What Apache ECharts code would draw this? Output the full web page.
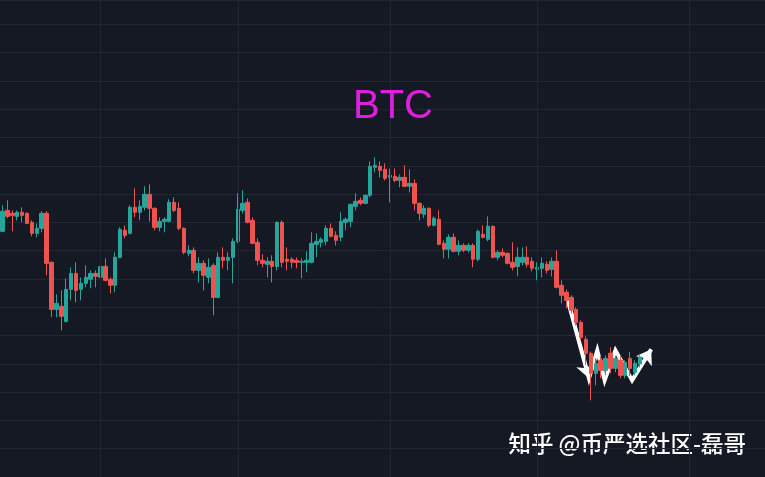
<!DOCTYPE html>
<html><head><meta charset="utf-8">
<script src="https://cdn.jsdelivr.net/npm/echarts@6/dist/echarts.min.js"></script>
<style>html,body{margin:0;padding:0;background:#151924}#c{width:765px;height:477px}</style>
</head><body><div id="c"></div><script>
const startDate = '2022-01-12';
const slotCount = 156;
const opens = [41710,43560,43300,43030,43390,43300,42500,41530,41970,43300,38970,34810,35080,33750,36580,37990,36580,37110,37470,37990,37640,38610,37470,36940,39410,41800,41530,43830,43390,43830,44980,43740,42060,42590,42590,44270,43740,41970,39760,40030,38260,38880,37640,38700,35870,39410,39150,39410,40820,43560,44270,42680,40740,39150,38790,39060,38610,42500,39240,39240,39150,38970,38970,38970,40560,40740,40820,41970,41350,41180,42500,42590,43920,44450,44180,44890,47360,47450,47190,46480,46570,46210,46480,45690,45950,44180,43210,43740,42240,42770,40650,40120,41180,39940,40470,40030,40470,39240,41440,41000,42150,39410,39850,39760,38970,38610,38970,39410,39060,38350,38440,38790,38350,39060,36940,36320,35870,34810,33660,32160,30930,29160,30310,29420,30930,29600,30310,28980,30480,29250,29990];
const closes = [43480,43030,43120,43390,43120,42410,41530,41970,43300,38880,34810,35340,34200,36580,37990,36490,37110,37640,37990,37730,38610,37380,36940,39410,41880,41350,43830,43390,43920,44980,43740,42060,42590,42770,44270,43560,41970,39850,40030,38260,38880,37820,38530,35870,39410,39150,39410,40820,43650,44180,42500,40650,39150,38880,39060,38610,42500,38970,39060,38970,38970,39060,39150,40650,40820,41000,41970,41270,40910,42590,42770,44090,44360,44180,44890,47450,47540,47100,46390,46660,46210,46480,45690,45950,44180,43300,43740,42240,42860,40560,40120,41180,39940,40470,40030,40470,39240,41710,41180,42150,39410,39850,39590,38880,38530,39410,39410,38790,38440,38530,38880,38260,39060,36760,36050,35610,34730,33660,32340,30930,29160,30040,29420,30480,29600,30480,28980,30130,29600,30040,30610];
const lows = [41620,42860,41710,42680,42500,42330,41270,41180,41620,37820,34140,34110,32960,33660,35610,35430,35610,36760,36670,36760,37550,37290,36230,36320,39320,41090,41440,42950,42680,43560,42590,41800,41710,41620,42500,43390,41800,39680,39500,37990,37200,36490,37110,34290,35790,38440,38260,37110,40650,43300,42410,40560,38700,38530,37640,37200,38260,38530,38260,38440,38440,37550,38080,38880,39410,40290,40470,41180,40470,40820,41800,42060,43560,44010,44100,44710,46920,46480,46210,44270,46040,45600,45600,45150,43560,42680,42860,42060,42150,40470,39320,39320,39850,39590,39850,39850,38530,39060,41090,40820,39320,39150,39410,38790,38260,37730,38700,38530,38170,37380,37640,37990,37730,36670,35340,34900,34460,33400,32080,29900,26770,28100,28720,28980,29160,29250,28720,28720,28930,28980,29690];
const highs = [44010,44450,43560,43560,43830,43390,42680,42410,43480,43480,39060,36140,36490,37550,38530,38970,37640,38700,38260,38260,39150,39320,37640,39850,42060,42240,44010,45510,44450,45690,45860,43830,42950,42950,44540,44710,44270,42060,40470,40290,39410,39150,39320,38880,39850,40290,39850,41090,45070,45330,44620,42950,41090,39680,39410,39590,42590,42680,40290,39410,39410,39320,39940,41620,41530,41180,42240,42410,41710,43390,42950,44180,45070,44710,44980,47890,48250,47890,47720,47270,47270,46740,47540,47190,46300,44270,44010,43830,43030,43560,40910,41440,41530,40910,40650,40650,40650,41880,42240,43030,42240,40030,40210,39850,40740,40290,40290,40380,39410,38970,39410,39060,39410,40030,37380,36580,36050,34990,33840,32430,31100,30480,30660,30750,31460,30660,30690,30310,31050,30310,30880];
const monthStarts = ['2022-02-01','2022-03-01','2022-04-01','2022-05-01','2022-06-01'];
const arrowPath = [[114.9,36250],[119.6,28720],[121.3,31190],[122.8,28540],[125.0,31190],[128.4,28540],[132.3,31280]];
const arrowHeadSegments = [0, 5];
const titleText = 'BTC';
const watermark = '知乎 @币严选社区-磊哥';

const dates = [];
const d0 = new Date(startDate + 'T00:00:00Z');
for (let i = 0; i < slotCount; i++) {
  dates.push(new Date(d0.getTime() + i * 86400000).toISOString().slice(0, 10));
}
const ohlc = opens.map((o, i) => [o, closes[i], lows[i], highs[i]]);
const headSegs = arrowHeadSegments.map(i => ({coords: [arrowPath[i], arrowPath[i + 1]]}));
const gridColor = '#222634';

const chart = echarts.init(document.getElementById('c'), null, {renderer: 'canvas'});
chart.setOption({
  backgroundColor: '#151924',
  animation: false,
  title: {
    text: titleText, left: 348, top: 82,
    textStyle: {color: '#e01ee0', fontSize: 40, fontWeight: 'normal', fontFamily: 'Liberation Sans, Arial, sans-serif'}
  },
  grid: {left: 0, top: 0, width: 768.3, height: 477},
  xAxis: [
    {type: 'category', data: dates, boundaryGap: true,
     axisLine: {show: false}, axisTick: {show: false}, axisLabel: {show: false}, splitLine: {show: false}},
    {type: 'value', min: -0.5, max: slotCount - 0.5, show: false}
  ],
  yAxis: {
    type: 'value', min: 20000, max: 62150, interval: 2500,
    axisLine: {show: false}, axisTick: {show: false}, axisLabel: {show: false},
    splitLine: {lineStyle: {color: gridColor, width: 1}}
  },
  series: [
    {
      type: 'candlestick', data: ohlc, barWidth: 4,
      itemStyle: {color: '#26a69a', color0: '#ef5350', borderColor: '#26a69a', borderColor0: '#ef5350', borderWidth: 1},
      markLine: {
        silent: true, symbol: 'none', animation: false,
        label: {show: false},
        lineStyle: {color: gridColor, type: 'solid', width: 1},
        data: monthStarts.map(d => ({xAxis: d}))
      }
    },
    {
      type: 'lines', coordinateSystem: 'cartesian2d', xAxisIndex: 1, yAxisIndex: 0,
      polyline: true, silent: true,
      lineStyle: {color: '#ffffff', width: 4, opacity: 1, join: 'miter', miterLimit: 4},
      data: [{coords: arrowPath}]
    },
    {
      type: 'lines', coordinateSystem: 'cartesian2d', xAxisIndex: 1, yAxisIndex: 0,
      silent: true, symbol: ['none', 'arrow'], symbolSize: 14,
      lineStyle: {color: '#ffffff', width: 3, opacity: 1, curveness: 0},
      data: headSegs
    }
  ],
  graphic: [{
    type: 'text', right: 19, top: 432,
    style: {text: watermark, fill: '#ffffff', font: '500 22.5px "Noto Sans CJK SC", sans-serif'}
  }]
});
</script></body></html>
